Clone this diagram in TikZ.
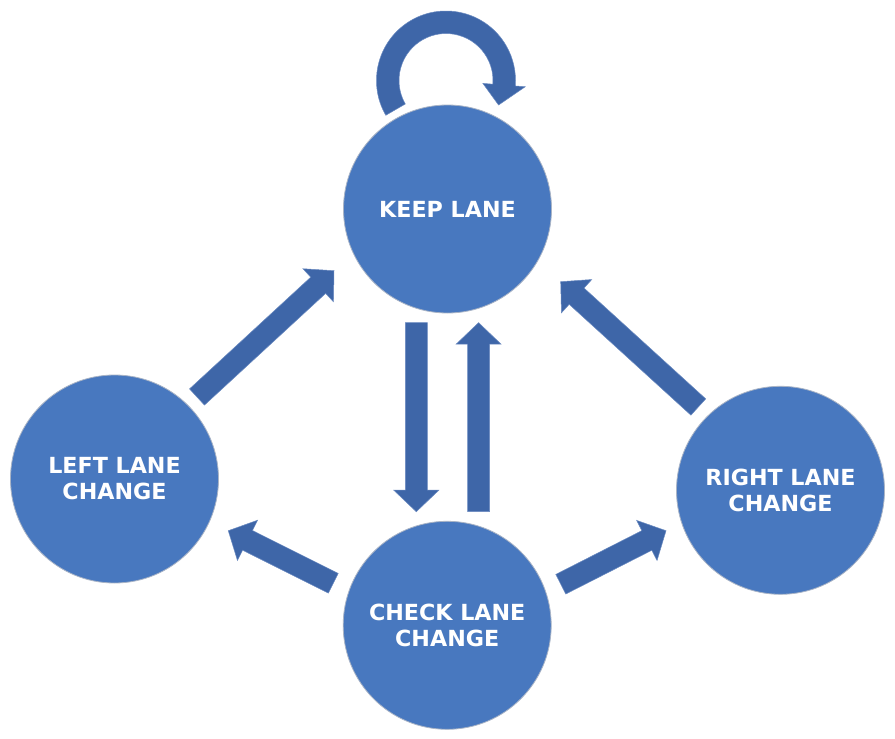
\documentclass[tikz,border=0pt]{standalone}
\usepackage{fontspec}
\newfontfamily\verd{DejaVu Sans}
\usetikzlibrary{calc}
\definecolor{circblue}{HTML}{4878BF}
\definecolor{arrblue}{HTML}{3E66A8}
\definecolor{circedge}{HTML}{A9B4C6}
\definecolor{arredge}{HTML}{6A8AC0}
\tikzset{
 lanestate/.style={circle, fill=circblue, draw=circedge, line width=0.8pt, minimum size=208pt, inner sep=0pt, text=white, align=center, font=\verd\bfseries\fontsize{22.2}{26}\selectfont},
 blockarrow/.style={fill=arrblue, draw=arredge, line width=0.5pt, line join=miter}
}
\newcommand\blkarrow[2]{%
  \coordinate (hb) at ($(#2)!21.5pt!(#1)$);
  \filldraw[blockarrow] ($(#1)!11pt!90:(#2)$) -- ($(hb)!11pt!90:(#2)$) -- ($(hb)!22.5pt!90:(#2)$) -- (#2) -- ($(hb)!22.5pt!-90:(#2)$) -- ($(hb)!11pt!-90:(#2)$) -- ($(#1)!11pt!-90:(#2)$) -- cycle;}
\begin{document}
\begin{tikzpicture}[x=1pt,y=-1pt]
\useasboundingbox[fill=white] (0,0) rectangle (895,739);
\node[lanestate] (keep) at (447.5,209) {KEEP LANE};
\node[lanestate] (left) at (114.5,479) {LEFT LANE\\CHANGE};
\node[lanestate] (right) at (780.5,490.3) {RIGHT LANE\\CHANGE};
\node[lanestate] (check) at (447.2,625.3) {CHECK LANE\\CHANGE};
% connector end points
\coordinate (a1t) at ($(left)+(82.5,-82)$);
\coordinate (a1h) at ($(keep)+(-113.5,61.7)$);
\coordinate (a2t) at ($(keep)+(-31.2,113.7)$);
\coordinate (a2h) at ($(check)+(-30.9,-113.6)$);
\coordinate (a3t) at ($(check)+(31.4,-113.6)$);
\coordinate (a3h) at ($(keep)+(31.1,113.7)$);
\coordinate (a4t) at ($(right)+(-82.2,-83.3)$);
\coordinate (a4h) at ($(keep)+(113.2,72.7)$);
\coordinate (a5t) at ($(check)+(-113.9,-42)$);
\coordinate (a5h) at ($(left)+(113.8,51.7)$);
\coordinate (a6t) at ($(check)+(113.6,-41.1)$);
\coordinate (a6h) at ($(right)+(-114.5,40.4)$);
\blkarrow{a1t}{a1h}
\blkarrow{a2t}{a2h}
\blkarrow{a3t}{a3h}
\blkarrow{a4t}{a4h}
\blkarrow{a5t}{a5h}
\blkarrow{a6t}{a6h}
% self loop on keep
\begin{scope}[shift={($(keep)+(-1.5,-128.5)$)}]
\filldraw[blockarrow] (150:47) -- (150:69.5) arc[start angle=150, end angle=364.5, radius=69.5] -- (4.5:79.5) -- (25:58) -- (4.5:37) -- (4.5:47) arc[start angle=364.5, end angle=150, radius=47] -- cycle;
\end{scope}
\end{tikzpicture}
\end{document}
